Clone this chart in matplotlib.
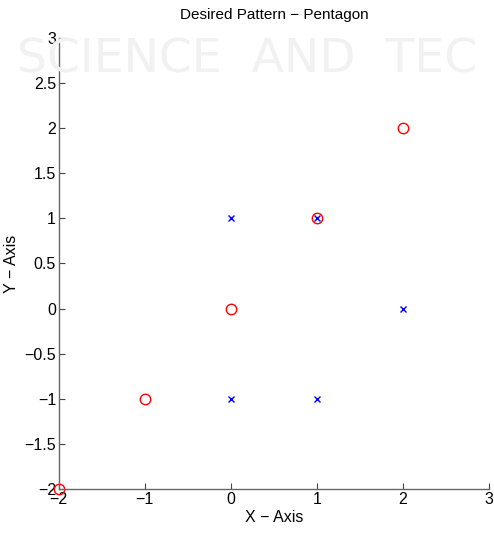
import matplotlib.pyplot as plt

plt.rcParams['font.family'] = ['Liberation Sans Narrow', 'Liberation Sans', 'DejaVu Sans']

# desired formation (red circles) and current robot positions (blue crosses)
desired_x = [-2, -1, 0, 1, 2]
desired_y = [-2, -1, 0, 1, 2]
robot_x = [0, 1, 2, 1, 0]
robot_y = [1, 1, 0, -1, -1]

xticks = [-2, -1, 0, 1, 2, 3]
yticks = [-2, -1.5, -1, -0.5, 0, 0.5, 1, 1.5, 2, 2.5, 3]

fig = plt.figure(figsize=(4.94, 5.35), dpi=100)

# faint watermark from the source page
fig.text(0.5, 0.887, "SCIENCE  AND  TEC", fontsize=34, fontweight='normal',
         color='#f1f1f1', family='DejaVu Sans', va='center', ha='center', zorder=0)

ax = fig.add_axes([0.119, 0.086, 0.871, 0.843])
ax.patch.set_alpha(0)

ax.plot(robot_x, robot_y, 'x', color='blue', markersize=5, markeredgewidth=1.0, clip_on=False)
ax.plot(desired_x, desired_y, 'o', mfc='none', mec='red', markersize=7.5, markeredgewidth=1.0, clip_on=False)

ax.set_xlim(-2, 3)
ax.set_ylim(-2, 3)
ax.set_xticks(xticks)
ax.set_yticks(yticks)
ax.set_xticklabels([('\u2212' + str(abs(t))) if t < 0 else str(t) for t in xticks])
ax.set_yticklabels([('\u2212' + ('%g' % abs(t))) if t < 0 else ('%g' % t) for t in yticks])

for side in ['top', 'right']:
    ax.spines[side].set_visible(False)
for side in ['left', 'bottom']:
    ax.spines[side].set_color('#666666')
    ax.spines[side].set_linewidth(1.0)
ax.tick_params(direction='in', length=4, color='#444444', labelsize=11.5, pad=2)

ax.set_title('Desired Pattern \u2212 Pentagon', fontsize=11, pad=14)
ax.set_xlabel('X \u2212 Axis', fontsize=11.5, labelpad=2)
ax.set_ylabel('Y \u2212 Axis', fontsize=11.5, labelpad=4)

fig.savefig('out.png', dpi=100)
